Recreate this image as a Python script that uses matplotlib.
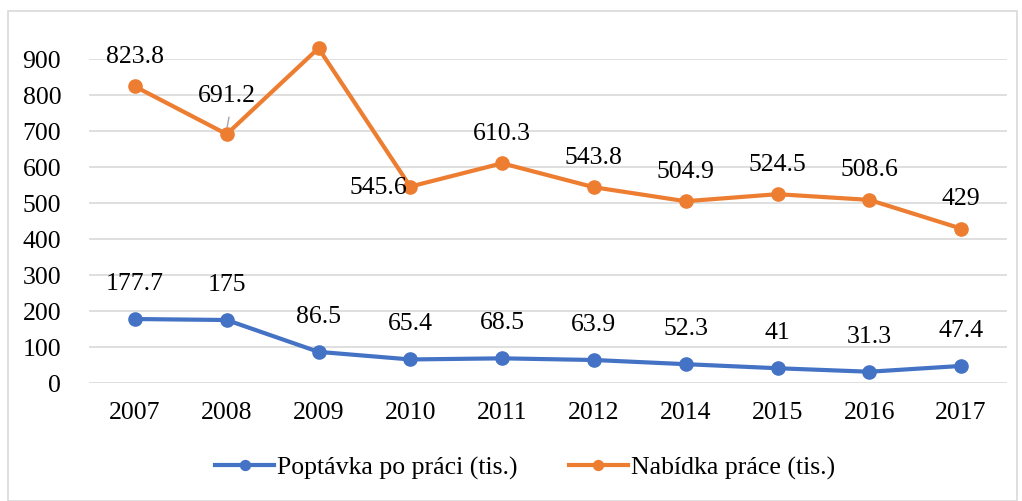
import numpy as np
import matplotlib.pyplot as plt
from matplotlib.patches import Rectangle

plt.rcParams['font.family'] = ['Liberation Serif', 'DejaVu Serif']

years = ['2007', '2008', '2009', '2010', '2011', '2012', '2014', '2015', '2016', '2017']
poptavka = [177.7, 175, 86.5, 65.4, 68.5, 63.9, 52.3, 41, 31.3, 47.4]
nabidka = [823.8, 691.2, 930, 545.6, 610.3, 543.8, 504.9, 524.5, 508.6, 429]
labels = ['Poptávka po práci (tis.)', 'Nabídka práce (tis.)']

blue = '#4472C4'
orange = '#ED7D31'
fs = 18.5

fig = plt.figure(figsize=(10.22, 5.02), dpi=100)
ax = fig.add_axes([89/1022, 1-384/502, (1007-89)/1022, (384-60)/502])

x = np.arange(len(years))
ax.plot(x, poptavka, color=blue, lw=3, marker='o', ms=9.5, label=labels[0],
        clip_on=False, zorder=3)
ax.plot(x, nabidka, color=orange, lw=3, marker='o', ms=9.5, label=labels[1],
        clip_on=False, zorder=3)

def fmt(v):
    return ('%g' % v)

# data labels
for i, v in enumerate(poptavka):
    ax.annotate(fmt(v), (x[i], v), xytext=(0, 26), textcoords='offset points',
                ha='center', va='center', fontsize=fs)
for i, v in enumerate(nabidka):
    off = (0, 22)
    if i == 1:
        off = (0, 28)
    if i == 2:
        off = (0, 14)
    if i == 3:
        off = (-23, 0)
    ax.annotate(fmt(v), (x[i], v), xytext=off, textcoords='offset points',
                ha='center', va='center', fontsize=fs)
# leader line for 691.2
ax.annotate('', (x[1], nabidka[1] + 12), xytext=(x[1] + 0.03, nabidka[1] + 55),
            arrowprops=dict(arrowstyle='-', color='#A6A6A6', lw=1))

ax.set_xlim(-0.5, len(years) - 0.5)
ax.set_ylim(0, 900)
ax.set_yticks(np.arange(0, 901, 100))
ax.set_xticks(x)
ax.set_xticklabels(years)
ax.tick_params(axis='both', length=0, labelsize=fs)
ax.tick_params(axis='x', pad=13)
ax.tick_params(axis='y', pad=20)
ax.grid(axis='y', color='#D9D9D9', lw=1.2)
ax.set_axisbelow(True)
for s in ax.spines.values():
    s.set_visible(False)

ax.legend(loc='center', bbox_to_anchor=(0.475, -0.26), ncol=2, frameon=False,
          fontsize=fs, handlelength=2.3, handletextpad=0.1, columnspacing=2.0,
          markerscale=0.75)

fig.patches.append(Rectangle((8/1022, 0), 1 - 13/1022, 1 - 12/502,
                             transform=fig.transFigure, fill=False,
                             edgecolor='#D9D9D9', lw=1.2))

fig.savefig('out.png', dpi=100)
